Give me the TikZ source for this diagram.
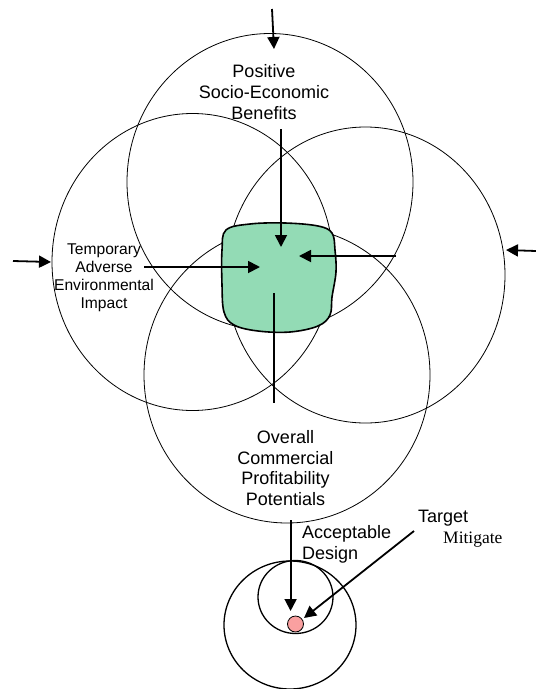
\documentclass[tikz,border=0pt]{standalone}
\usepackage{fontspec}
\setmainfont{Liberation Sans}
\newfontfamily\serifx{Liberation Serif}
\usetikzlibrary{arrows.meta,shapes.geometric}
\definecolor{blobgreen}{RGB}{147,219,181}
\definecolor{dotpink}{RGB}{250,160,160}
\begin{document}
\begin{tikzpicture}[x=1pt,y=-1pt,
  ring/.style={draw, ellipse, line width=0.8pt, inner sep=0pt, outer sep=0pt},
  sring/.style={draw, ellipse, line width=1.3pt, inner sep=0pt, outer sep=0pt},
  arr/.style={line width=1.8pt, -{Triangle[length=12pt,width=12pt]}},
  plainline/.style={line width=1.3pt},
  lbl/.style={font=\fontsize{18}{20.7}\selectfont, align=center, inner sep=0pt},
  slbl/.style={font=\fontsize{15.6}{18}\selectfont, align=center, inner sep=0pt},
]
\useasboundingbox (0,0) rectangle (536,689);

% big circles
\node[ring, minimum width=286pt, minimum height=297pt] (ctop) at (270,182) {};
\node[ring, minimum width=281pt, minimum height=297pt] (cleft) at (192.5,262) {};
\node[ring, minimum width=279pt, minimum height=296pt] (cright) at (365.5,275) {};
\node[ring, minimum width=286pt, minimum height=296pt] (cbot) at (287,375) {};

% green core
\draw[line width=1.6pt, fill=blobgreen]
  plot[smooth cycle, tension=0.6] coordinates {
   (226,230) (250,224) (285,223) (318,226) (332,233) (335,250) (336,272)
   (332,297) (330,315) (318,326) (290,332) (258,331) (234,325) (224,312)
   (222,285) (222,250)};
\coordinate (core) at (279,278);

% small circles
\node[sring, minimum width=132pt, minimum height=128pt] (cbig) at (290,625) {};
\node[sring, minimum width=75pt, minimum height=73pt] (csmall) at (295.5,597) {};
\node[draw, circle, line width=0.8pt, fill=dotpink, minimum size=16pt, inner sep=0pt] (dot) at (295.5,624) {};

% labels
\node[lbl] (tpos) at (264,92) {Positive\\Socio-Economic\\Benefits};
\node[slbl] (ttemp) at (104,278) {Temporary\\Adverse\\Environmental\\Impact};
\node[lbl] (tover) at (285.5,468) {Overall\\Commercial\\Profitability\\Potentials};
\node[lbl, align=left, anchor=west] (tacc) at (302,544.5) {Acceptable\\Design};
\node[lbl, anchor=west] (ttarget) at (418,518) {Target};
\node[font=\serifx\fontsize{17.5}{19}\selectfont, anchor=west, inner sep=0pt] (tmit) at (443,540) {Mitigate};

% connector end points
\coordinate (topS) at (272,9);
\coordinate (topE) at (274,49);
\coordinate (benS) at (281,129);
\coordinate (benE) at (281,247);
\coordinate (leftS) at (13,261);
\coordinate (leftE) at (51,262);
\coordinate (tempS) at (144,267);
\coordinate (tempE) at (260,267);
\coordinate (rinS) at (396,256);
\coordinate (rinE) at (299,256);
\coordinate (rightS) at (536,251);
\coordinate (rightE) at (506,250);
\coordinate (vS) at (274,293);
\coordinate (vE) at (274,403);
\coordinate (accS) at (290.6,520);
\coordinate (accE) at (290.6,611);
\coordinate (tarS) at (414,531);
\coordinate (tarE) at (304,618);

% connectors
\draw[arr] (topS) -- (topE);
\draw[arr] (benS) -- (benE);
\draw[arr] (leftS) -- (leftE);
\draw[arr] (tempS) -- (tempE);
\draw[arr] (rinS) -- (rinE);
\draw[arr] (rightS) -- (rightE);
\draw[plainline] (vS) -- (vE);
\draw[arr] (accS) -- (accE);
\draw[arr] (tarS) -- (tarE);
\end{tikzpicture}
\end{document}
